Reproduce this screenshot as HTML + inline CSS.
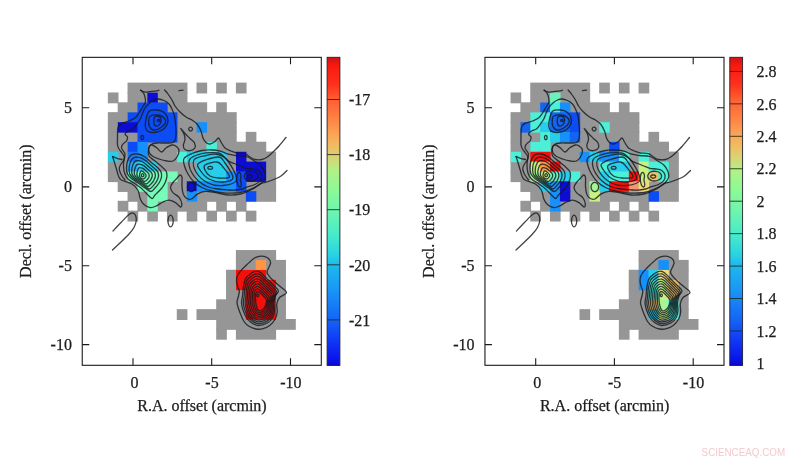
<!DOCTYPE html>
<html><head><meta charset="utf-8"><title>maps</title>
<style>
html,body{margin:0;padding:0;background:#fff;}
svg{display:block;}
text{font-family:"Liberation Serif","Times New Roman",serif;font-size:16px;fill:#1c1c1c;stroke:#1c1c1c;stroke-width:0.25px;}

.wm{stroke:none;font-family:"Liberation Sans",Arial,sans-serif;font-size:10.8px;fill:#f3c9cf;}
</style></head><body>
<svg width="800" height="461" viewBox="0 0 800 461">
<defs><linearGradient id="jet" x1="0" y1="0" x2="0" y2="1"><stop offset="0.0000" stop-color="rgb(205, 18, 25)"/><stop offset="0.0282" stop-color="rgb(250, 25, 15)"/><stop offset="0.0899" stop-color="rgb(255, 50, 30)"/><stop offset="0.1369" stop-color="rgb(255, 95, 50)"/><stop offset="0.1905" stop-color="rgb(255, 125, 65)"/><stop offset="0.2618" stop-color="rgb(250, 172, 90)"/><stop offset="0.3157" stop-color="rgb(226, 205, 110)"/><stop offset="0.3657" stop-color="rgb(178, 240, 135)"/><stop offset="0.4306" stop-color="rgb(140, 250, 150)"/><stop offset="0.4945" stop-color="rgb(112, 245, 172)"/><stop offset="0.5766" stop-color="rgb(70, 235, 202)"/><stop offset="0.6415" stop-color="rgb(42, 210, 226)"/><stop offset="0.6733" stop-color="rgb(30, 186, 236)"/><stop offset="0.7550" stop-color="rgb(25, 150, 246)"/><stop offset="0.8524" stop-color="rgb(20, 100, 246)"/><stop offset="0.9173" stop-color="rgb(15, 58, 246)"/><stop offset="0.9692" stop-color="rgb(12, 26, 238)"/><stop offset="0.9919" stop-color="rgb(10, 14, 222)"/><stop offset="1.0000" stop-color="rgb(8, 8, 190)"/></linearGradient>
<g id="ct" fill="none" stroke="#141a1e" stroke-opacity="0.82" stroke-width="1.3" stroke-linejoin="round" stroke-linecap="round">
<path d="M159.0 90.2C158.7 90.3 158.5 90.7 157.0 90.9C155.5 91.1 152.1 91.4 150.0 91.6C147.9 91.8 146.1 92.2 144.5 92.0C142.9 91.8 141.2 90.5 140.6 90.2"/>
<path d="M140.6 90.2C141.2 90.8 143.2 92.5 144.0 94.0C144.8 95.5 145.1 97.6 145.3 99.0C145.5 100.4 145.7 101.2 145.3 102.5C144.9 103.8 144.1 104.8 143.0 106.5C141.9 108.2 140.3 111.1 139.0 113.0C137.7 114.9 136.7 116.7 135.0 118.0C133.3 119.3 131.2 120.1 129.0 121.0C126.8 121.9 123.7 122.4 122.0 123.2C120.3 124.0 119.3 124.9 118.6 126.0C117.9 127.1 117.8 128.0 117.6 130.0C117.4 132.0 117.5 135.5 117.5 138.0C117.5 140.5 117.2 143.2 117.5 145.0C117.8 146.8 118.2 147.7 119.0 149.0C119.8 150.3 121.1 151.7 122.0 153.0C122.9 154.3 124.2 155.8 124.5 157.0C124.8 158.2 124.6 158.8 124.0 160.0C123.4 161.2 121.8 162.7 121.0 164.0C120.2 165.3 119.5 166.7 119.3 168.0C119.1 169.3 119.5 170.7 120.0 172.0C120.5 173.3 121.2 174.7 122.0 176.0C122.8 177.3 124.5 179.3 125.0 180.0"/>
<path d="M112.5 156.5C112.8 157.2 113.5 159.4 114.0 161.0C114.5 162.6 115.0 164.3 115.5 166.0C116.0 167.7 116.5 169.3 117.0 171.0C117.5 172.7 117.8 174.5 118.5 176.0C119.2 177.5 119.2 178.7 121.4 180.0C123.6 181.3 128.8 182.1 131.5 183.8C134.2 185.5 136.3 187.5 137.8 190.0C139.3 192.5 139.3 196.5 140.3 198.9C141.3 201.3 142.3 203.0 144.0 204.5C145.7 206.0 148.2 207.5 150.3 207.7C152.4 207.9 154.5 206.8 156.6 205.8C158.7 204.9 160.8 202.9 162.9 202.0C165.0 201.1 167.1 200.0 169.2 200.1C171.3 200.2 173.6 201.4 175.5 202.6C177.4 203.8 179.4 206.8 180.5 207.0C181.6 207.2 182.0 205.5 181.8 203.9C181.6 202.3 180.8 199.5 179.3 197.6C177.8 195.7 174.5 194.3 173.0 192.6C171.5 190.9 170.5 189.2 170.5 187.5C170.5 185.8 171.9 184.0 173.0 182.5C174.1 181.0 175.6 179.8 176.8 178.5C178.0 177.2 179.1 175.2 180.0 175.0C180.9 174.8 181.7 175.6 182.0 177.5C182.3 179.4 181.8 183.7 182.0 186.4C182.2 189.1 182.5 191.9 183.2 193.9C183.9 195.9 185.0 197.5 186.4 198.3C187.8 199.2 189.5 199.7 191.4 199.0C193.3 198.3 195.4 195.2 197.7 193.9C200.0 192.6 202.4 191.6 205.3 191.4C208.2 191.2 211.5 192.0 215.3 192.6C219.1 193.2 223.8 194.8 228.0 195.0C232.2 195.2 236.3 195.0 240.5 194.0C244.7 193.0 249.8 190.7 253.0 189.0C256.2 187.3 257.7 185.2 260.0 184.0C262.3 182.8 264.5 182.8 267.0 182.0C269.5 181.2 272.7 180.0 275.0 179.0C277.3 178.0 279.0 177.4 281.0 176.0C283.0 174.6 286.0 171.4 287.0 170.5"/>
<path d="M112.5 156.5C113.2 156.8 115.4 157.8 117.0 158.3C118.6 158.8 121.2 159.3 122.0 159.5"/>
<path d="M164.6 90.0C165.2 90.7 166.8 92.3 168.0 94.0C169.2 95.7 170.8 98.0 172.0 100.0C173.2 102.0 173.7 104.0 175.0 106.0C176.3 108.0 178.2 110.2 180.0 112.0C181.8 113.8 184.0 115.7 186.0 117.0C188.0 118.3 190.2 118.8 192.0 120.0C193.8 121.2 195.5 122.2 197.0 124.0C198.5 125.8 200.0 128.7 201.0 131.0C202.0 133.3 202.2 136.1 203.0 138.0C203.8 139.9 204.8 141.5 206.0 142.5C207.2 143.5 208.5 144.2 210.0 144.0C211.5 143.8 213.6 142.5 215.0 141.5C216.4 140.5 217.5 137.9 218.5 138.0C219.5 138.1 219.9 140.3 221.0 142.0C222.1 143.7 223.3 146.5 225.0 148.0C226.7 149.5 229.0 150.2 231.0 151.0C233.0 151.8 234.7 152.6 237.0 153.0C239.3 153.4 242.8 153.0 245.0 153.7C247.2 154.4 248.3 156.0 250.0 157.0C251.7 158.0 253.0 159.1 255.0 159.5C257.0 159.9 259.8 160.0 262.0 159.5C264.2 159.0 266.2 157.8 268.0 156.5C269.8 155.2 271.2 153.8 273.0 152.0C274.8 150.2 276.8 148.4 279.0 146.0C281.2 143.6 284.8 138.9 286.0 137.5"/>
<path d="M179.0 90.6 L183.0 90.2"/>
<path d="M158.5 99.0C160.2 99.1 162.2 99.7 164.0 100.5C165.8 101.3 167.7 102.6 169.0 104.0C170.3 105.4 171.1 107.0 172.0 109.0C172.9 111.0 173.9 113.5 174.5 116.0C175.1 118.5 175.2 121.3 175.5 124.0C175.8 126.7 176.0 129.5 176.0 132.0C176.0 134.5 176.0 137.2 175.5 139.0C175.0 140.8 174.6 141.8 173.0 142.5C171.4 143.2 168.7 142.9 166.0 143.0C163.3 143.1 159.5 142.8 157.0 143.0C154.5 143.2 152.4 143.5 151.0 144.5C149.6 145.5 148.8 147.1 148.5 149.0C148.2 150.9 147.9 154.0 149.0 156.0C150.1 158.0 153.0 159.3 155.0 161.0C157.0 162.7 159.2 164.3 161.0 166.0C162.8 167.7 165.0 169.3 166.0 171.0C167.0 172.7 167.2 174.0 167.0 176.0C166.8 178.0 166.0 180.8 165.0 183.0C164.0 185.2 162.7 187.0 161.0 189.0C159.3 191.0 156.5 193.4 155.0 195.0C153.5 196.6 153.3 198.7 152.0 198.5C150.7 198.3 148.8 195.8 147.0 194.0C145.2 192.2 143.2 189.8 141.0 188.0C138.8 186.2 136.2 184.5 134.0 183.0C131.8 181.5 129.6 180.7 128.0 179.0C126.4 177.3 125.2 175.2 124.5 173.0C123.8 170.8 123.6 168.3 123.5 166.0C123.4 163.7 123.8 161.0 124.0 159.0C124.2 157.0 125.4 155.8 125.0 154.0C124.6 152.2 121.8 149.7 121.5 148.0C121.2 146.3 122.2 145.2 123.0 144.0C123.8 142.8 125.8 142.2 126.5 141.0C127.2 139.8 127.8 138.2 127.5 137.0C127.2 135.8 124.9 135.0 125.0 134.0C125.1 133.0 126.7 131.8 128.0 131.0C129.3 130.2 131.6 130.0 133.0 129.0C134.4 128.0 135.1 126.7 136.3 125.0C137.5 123.3 139.3 120.8 140.3 119.0C141.3 117.2 141.5 115.8 142.3 114.0C143.1 112.2 143.7 109.9 145.0 108.0C146.3 106.1 148.5 103.8 150.0 102.5C151.5 101.2 152.6 100.6 154.0 100.0C155.4 99.4 156.8 98.9 158.5 99.0Z"/>
<path d="M150.3 116.0C151.9 115.2 156.0 114.7 158.3 115.0C160.6 115.3 163.1 116.7 164.3 118.0C165.5 119.3 166.0 121.3 165.3 123.0C164.6 124.7 162.3 126.8 160.3 128.0C158.3 129.2 155.1 130.3 153.3 130.0C151.5 129.7 150.1 127.7 149.3 126.0C148.6 124.3 148.6 121.7 148.8 120.0C149.0 118.3 148.7 116.8 150.3 116.0Z"/>
<path d="M149.3 111.0C151.1 109.7 155.0 109.8 157.3 110.0C159.6 110.2 161.6 110.8 163.3 112.0C165.0 113.2 166.6 115.0 167.3 117.0C168.0 119.0 168.1 121.8 167.3 124.0C166.5 126.2 164.5 128.6 162.3 130.0C160.1 131.4 156.8 132.3 154.3 132.5C151.8 132.7 148.8 132.1 147.3 131.0C145.8 129.9 145.5 128.2 145.3 126.0C145.1 123.8 145.6 120.5 146.3 118.0C147.0 115.5 147.5 112.3 149.3 111.0Z"/>
<path d="M154.5 117.0C155.4 116.2 157.9 116.2 159.0 116.5C160.1 116.8 160.8 117.9 161.0 119.0C161.2 120.1 161.1 121.8 160.5 123.0C159.9 124.2 158.5 125.7 157.5 126.0C156.5 126.3 155.1 125.8 154.5 125.0C153.9 124.2 153.8 122.3 153.8 121.0C153.8 119.7 153.6 117.8 154.5 117.0Z"/>
<path d="M159.8 120.5C159.8 120.7 159.6 121.0 159.4 121.2C159.2 121.4 158.8 121.5 158.5 121.5C158.2 121.5 157.8 121.4 157.6 121.2C157.4 121.0 157.2 120.7 157.2 120.5C157.2 120.3 157.4 120.0 157.6 119.8C157.8 119.6 158.2 119.5 158.5 119.5C158.8 119.5 159.2 119.6 159.4 119.8C159.6 120.0 159.8 120.3 159.8 120.5Z"/>
<path d="M143.6 137.5C143.6 138.0 143.4 138.7 143.2 139.1C143.0 139.4 142.6 139.7 142.3 139.7C142.0 139.7 141.6 139.4 141.4 139.1C141.2 138.7 141.0 138.0 141.0 137.5C141.0 137.0 141.2 136.3 141.4 135.9C141.6 135.6 142.0 135.3 142.3 135.3C142.6 135.3 143.0 135.6 143.2 135.9C143.4 136.3 143.6 137.0 143.6 137.5Z"/>
<path d="M192.5 129.0C192.5 129.4 192.3 130.0 191.9 130.3C191.6 130.7 191.0 130.9 190.6 130.9C190.2 130.9 189.6 130.7 189.3 130.3C188.9 130.0 188.7 129.4 188.7 129.0C188.7 128.6 188.9 128.0 189.3 127.7C189.6 127.3 190.2 127.1 190.6 127.1C191.0 127.1 191.6 127.3 191.9 127.7C192.3 128.0 192.5 128.6 192.5 129.0Z"/>
<path d="M149.0 147.0C149.4 145.7 150.7 144.8 152.0 145.0C153.3 145.2 155.4 146.8 157.0 148.0C158.6 149.2 160.0 152.0 161.5 152.0C163.0 152.0 164.2 149.2 166.0 148.0C167.8 146.8 170.2 145.2 172.0 145.0C173.8 144.8 175.8 146.0 177.0 147.0C178.2 148.0 179.0 149.3 179.0 151.0C179.0 152.7 178.0 155.3 177.0 157.0C176.0 158.7 174.7 160.3 173.0 161.0C171.3 161.7 169.3 161.3 167.0 161.0C164.7 160.7 161.3 159.8 159.0 159.0C156.7 158.2 154.6 157.5 153.0 156.5C151.4 155.5 150.2 154.6 149.5 153.0C148.8 151.4 148.6 148.3 149.0 147.0Z"/>
<path d="M180.7 128.3C180.9 128.2 183.4 131.8 185.0 133.5C186.6 135.2 188.4 136.9 190.0 138.5C191.6 140.1 193.7 141.4 194.5 143.0C195.3 144.6 195.6 146.7 194.8 148.0C194.1 149.3 191.6 150.4 190.0 150.7C188.4 150.9 186.1 150.4 185.0 149.5C183.9 148.6 183.3 147.2 183.3 145.5C183.3 143.8 184.9 141.4 185.0 139.5C185.1 137.6 184.7 135.9 184.0 134.0C183.3 132.1 180.5 128.4 180.7 128.3Z"/>
<path d="M141.0 171.0C141.4 170.7 141.8 171.0 142.2 171.2C142.6 171.3 143.0 171.6 143.4 171.9C143.8 172.2 144.2 172.6 144.5 172.9C144.8 173.2 145.2 173.6 145.4 173.9C145.7 174.2 145.9 174.6 146.0 175.0C146.1 175.4 146.1 175.8 146.0 176.2C145.9 176.6 145.7 177.0 145.4 177.4C145.1 177.8 144.8 178.1 144.4 178.4C144.0 178.7 143.4 179.0 143.0 179.0C142.6 179.0 142.2 178.8 141.8 178.6C141.4 178.4 141.1 178.2 140.8 177.9C140.5 177.6 140.2 177.3 140.0 177.0C139.8 176.7 139.7 176.5 139.6 176.2C139.5 175.9 139.4 175.8 139.5 175.3C139.6 174.8 139.8 173.7 140.0 173.0C140.2 172.3 140.6 171.3 141.0 171.0Z"/>
<path d="M139.0 167.8C139.6 167.3 140.6 167.6 141.4 167.8C142.1 167.9 142.9 168.4 143.7 168.9C144.5 169.4 145.3 170.3 146.0 170.9C146.7 171.6 147.4 172.1 147.9 172.7C148.4 173.3 148.8 173.8 149.0 174.4C149.2 175.0 149.2 175.7 149.1 176.4C149.0 177.0 148.6 177.9 148.1 178.5C147.7 179.2 147.1 179.8 146.5 180.3C145.9 180.8 145.3 181.5 144.6 181.5C143.9 181.5 143.2 180.9 142.4 180.5C141.7 180.0 140.9 179.4 140.2 178.9C139.6 178.4 138.9 177.9 138.4 177.4C137.9 176.9 137.4 176.4 137.2 175.8C136.9 175.2 136.8 174.7 136.9 173.8C137.0 173.0 137.2 171.6 137.5 170.6C137.8 169.6 138.4 168.3 139.0 167.8Z"/>
<path d="M137.0 164.6C137.9 164.0 139.3 164.1 140.5 164.3C141.7 164.5 142.9 165.2 144.0 165.9C145.2 166.7 146.4 168.0 147.5 168.9C148.6 169.9 149.7 170.7 150.4 171.5C151.2 172.3 151.7 173.0 152.0 173.8C152.3 174.6 152.4 175.5 152.2 176.5C152.0 177.5 151.4 178.7 150.8 179.6C150.2 180.6 149.4 181.5 148.6 182.2C147.9 183.0 147.1 184.0 146.2 184.0C145.3 184.0 144.2 183.0 143.1 182.4C142.0 181.7 140.7 180.7 139.7 179.9C138.6 179.2 137.6 178.6 136.8 177.8C136.0 177.0 135.2 176.2 134.8 175.3C134.3 174.4 134.3 173.6 134.3 172.4C134.3 171.2 134.6 169.5 135.0 168.2C135.4 166.9 136.1 165.2 137.0 164.6Z"/>
<path d="M135.0 161.4C136.2 160.6 138.1 160.6 139.7 160.9C141.2 161.1 142.8 161.9 144.4 163.0C145.9 164.0 147.6 165.7 149.0 167.0C150.4 168.2 152.0 169.3 153.0 170.4C154.0 171.4 154.6 172.1 155.0 173.2C155.4 174.3 155.5 175.4 155.3 176.7C155.1 177.9 154.3 179.5 153.6 180.8C152.8 182.0 151.7 183.2 150.8 184.2C149.8 185.1 149.0 186.5 147.8 186.5C146.6 186.5 145.2 185.2 143.7 184.2C142.3 183.3 140.5 182.0 139.1 181.0C137.7 180.0 136.3 179.2 135.2 178.2C134.1 177.2 132.9 176.1 132.3 174.9C131.8 173.7 131.7 172.4 131.7 170.9C131.7 169.4 131.9 167.4 132.5 165.8C133.1 164.2 133.8 162.2 135.0 161.4Z"/>
<path d="M133.0 158.2C134.5 157.2 136.9 157.1 138.8 157.4C140.8 157.7 142.7 158.7 144.7 160.0C146.6 161.2 148.7 163.4 150.5 165.0C152.3 166.5 154.2 167.9 155.5 169.2C156.7 170.5 157.5 171.3 158.0 172.6C158.5 173.9 158.7 175.3 158.4 176.8C158.1 178.4 157.2 180.3 156.3 181.9C155.4 183.4 154.0 184.9 152.9 186.1C151.7 187.3 150.8 189.0 149.4 189.0C148.0 189.0 146.2 187.3 144.4 186.1C142.6 184.9 140.4 183.2 138.6 182.0C136.8 180.7 135.0 179.9 133.6 178.6C132.2 177.3 130.7 176.0 129.9 174.4C129.2 172.9 129.1 171.3 129.1 169.5C129.1 167.6 129.3 165.3 130.0 163.4C130.7 161.5 131.5 159.2 133.0 158.2Z"/>
<path d="M131.0 155.0C132.8 153.8 135.7 153.7 138.0 154.0C140.3 154.3 142.7 155.5 145.0 157.0C147.3 158.5 149.8 161.2 152.0 163.0C154.2 164.8 156.5 166.5 158.0 168.0C159.5 169.5 160.4 170.5 161.0 172.0C161.6 173.5 161.8 175.2 161.5 177.0C161.2 178.8 160.1 181.2 159.0 183.0C157.9 184.8 156.3 186.6 155.0 188.0C153.7 189.4 152.7 191.5 151.0 191.5C149.3 191.5 147.2 189.4 145.0 188.0C142.8 186.6 140.2 184.5 138.0 183.0C135.8 181.5 133.8 180.5 132.0 179.0C130.2 177.5 128.4 175.8 127.5 174.0C126.6 172.2 126.5 170.2 126.5 168.0C126.5 165.8 126.8 163.2 127.5 161.0C128.2 158.8 129.2 156.2 131.0 155.0Z"/>
<path d="M143.9 175.2C143.9 175.6 143.7 176.0 143.5 176.3C143.3 176.5 142.9 176.7 142.6 176.7C142.3 176.7 141.9 176.5 141.7 176.3C141.5 176.0 141.3 175.6 141.3 175.2C141.3 174.8 141.5 174.4 141.7 174.1C141.9 173.9 142.3 173.7 142.6 173.7C142.9 173.7 143.3 173.9 143.5 174.1C143.7 174.4 143.9 174.8 143.9 175.2Z"/>
<path d="M212.6 167.8C212.6 168.1 212.4 168.4 212.1 168.7C211.9 168.9 211.4 169.1 210.9 169.2C210.5 169.3 209.9 169.3 209.5 169.2C209.0 169.1 208.5 168.9 208.3 168.7C208.0 168.4 207.8 168.1 207.8 167.8C207.8 167.5 208.0 167.2 208.3 166.9C208.5 166.7 209.0 166.5 209.5 166.4C209.9 166.3 210.5 166.3 210.9 166.4C211.4 166.5 211.9 166.7 212.1 166.9C212.4 167.2 212.6 167.5 212.6 167.8Z"/>
<path d="M205.0 165.0C207.0 163.7 214.0 161.7 217.0 162.0C220.0 162.3 220.9 164.5 223.0 167.0C225.1 169.5 230.2 175.2 229.5 177.0C228.8 178.8 222.2 178.2 219.0 178.0C215.8 177.8 212.3 177.3 210.0 176.0C207.7 174.7 205.8 171.8 205.0 170.0C204.2 168.2 203.0 166.3 205.0 165.0Z"/>
<path d="M199.0 163.0C202.0 160.8 213.7 157.0 218.0 157.0C222.3 157.0 222.5 159.5 225.0 163.0C227.5 166.5 233.3 174.8 233.0 178.0C232.7 181.2 227.0 181.8 223.0 182.0C219.0 182.2 212.8 181.0 209.0 179.0C205.2 177.0 201.7 172.7 200.0 170.0C198.3 167.3 196.0 165.2 199.0 163.0Z"/>
<path d="M194.0 160.0C195.7 157.2 202.0 156.4 206.0 155.5C210.0 154.6 214.3 153.6 218.0 154.5C221.7 155.4 224.9 156.8 228.0 161.0C231.1 165.2 237.3 175.9 236.5 180.0C235.7 184.1 227.8 185.0 223.0 185.5C218.2 186.0 212.5 185.2 208.0 183.0C203.5 180.8 198.3 175.8 196.0 172.0C193.7 168.2 192.3 162.8 194.0 160.0Z"/>
<path d="M190.0 159.0C191.3 157.3 194.3 156.0 197.0 155.0C199.7 154.0 202.4 153.1 206.0 152.8C209.6 152.5 215.4 152.5 218.3 153.0C221.2 153.5 221.6 154.7 223.3 156.0C225.0 157.3 226.5 159.8 228.3 161.0C230.1 162.2 232.3 162.7 234.3 163.5C236.3 164.3 238.3 165.2 240.3 166.0C242.3 166.8 244.3 167.8 246.3 168.3C248.3 168.8 250.4 168.7 252.3 169.0C254.2 169.3 256.5 169.3 258.0 170.3C259.5 171.3 261.1 173.3 261.5 175.0C261.9 176.7 261.4 178.9 260.3 180.5C259.2 182.1 257.2 183.4 255.0 184.5C252.8 185.6 249.4 186.1 247.3 186.8C245.2 187.6 244.1 188.5 242.3 189.0C240.5 189.5 238.6 189.8 236.3 190.0C234.0 190.2 231.4 190.2 228.3 190.0C225.2 189.8 221.6 189.6 218.0 189.0C214.4 188.4 210.3 187.9 207.0 186.5C203.7 185.1 200.5 182.8 198.0 180.5C195.5 178.2 193.5 175.6 192.0 173.0C190.5 170.4 189.3 167.3 189.0 165.0C188.7 162.7 188.7 160.7 190.0 159.0Z"/>
<path d="M184.0 158.5C185.2 156.4 189.0 154.8 192.0 153.5C195.0 152.2 198.7 151.1 202.0 150.5C205.3 149.9 208.9 149.9 212.0 150.0C215.1 150.1 217.6 150.5 220.3 151.2C223.0 151.9 225.6 153.5 228.3 154.2C231.0 154.9 233.3 155.1 236.3 155.5C239.3 155.9 243.3 155.6 246.3 156.5C249.3 157.4 252.0 159.6 254.3 161.0C256.6 162.4 258.6 163.3 260.3 165.0C262.0 166.7 263.5 169.0 264.3 171.0C265.1 173.0 265.6 175.2 265.3 177.0C265.0 178.8 263.6 180.5 262.3 182.0C261.0 183.5 259.3 184.8 257.3 186.0C255.3 187.2 252.6 188.3 250.3 189.3C248.0 190.3 245.9 191.2 243.3 191.8C240.8 192.4 238.2 192.8 235.0 193.0C231.8 193.2 227.8 193.3 224.0 193.0C220.2 192.7 215.7 191.9 212.0 191.0C208.3 190.1 205.0 189.0 202.0 187.5C199.0 186.0 196.3 184.2 194.0 182.0C191.7 179.8 189.6 176.7 188.0 174.0C186.4 171.3 185.2 168.6 184.5 166.0C183.8 163.4 182.8 160.6 184.0 158.5Z"/>
<path d="M252.2 176.5C252.2 176.8 252.0 177.2 251.7 177.4C251.4 177.7 250.9 177.9 250.5 178.0C250.0 178.1 249.4 178.1 248.9 178.0C248.5 177.9 248.0 177.7 247.7 177.4C247.4 177.2 247.2 176.8 247.2 176.5C247.2 176.2 247.4 175.8 247.7 175.6C248.0 175.3 248.5 175.1 248.9 175.0C249.4 174.9 250.0 174.9 250.5 175.0C250.9 175.1 251.4 175.3 251.7 175.6C252.0 175.8 252.2 176.2 252.2 176.5Z"/>
<path d="M247.0 172.0C248.3 171.3 250.5 171.2 252.0 171.3C253.5 171.4 255.0 171.8 256.0 172.5C257.0 173.2 257.8 174.5 258.0 175.5C258.2 176.5 258.0 177.7 257.3 178.5C256.6 179.3 255.4 180.1 254.0 180.5C252.6 180.9 250.4 181.1 249.0 180.8C247.6 180.6 246.3 179.9 245.5 179.0C244.7 178.1 244.1 176.7 244.3 175.5C244.6 174.3 245.7 172.7 247.0 172.0Z"/>
<path d="M237.8 173.3C238.2 172.7 239.1 172.2 239.6 172.6C240.1 173.0 240.8 174.3 241.0 175.5C241.2 176.7 240.4 178.4 240.5 180.0C240.6 181.6 241.4 183.8 241.3 185.0C241.2 186.2 240.8 186.9 240.2 187.0C239.6 187.1 238.6 186.5 238.0 185.3C237.4 184.1 237.0 181.6 236.8 180.0C236.6 178.4 236.8 177.1 237.0 176.0C237.2 174.9 237.4 173.9 237.8 173.3Z"/>
<path d="M195.1 187.0C195.1 187.9 194.8 188.9 194.4 189.6C193.9 190.4 193.2 191.0 192.5 191.3C191.8 191.6 190.8 191.6 190.1 191.3C189.4 191.0 188.7 190.4 188.2 189.6C187.8 188.9 187.5 187.9 187.5 187.0C187.5 186.1 187.8 185.1 188.2 184.4C188.7 183.6 189.4 183.0 190.1 182.7C190.8 182.4 191.8 182.4 192.5 182.7C193.2 183.0 193.9 183.6 194.4 184.4C194.8 185.1 195.1 186.1 195.1 187.0Z"/>
<path d="M173.2 221.0C173.2 222.1 173.0 223.5 172.7 224.4C172.4 225.3 171.9 226.2 171.4 226.5C170.9 226.9 170.3 226.9 169.8 226.5C169.3 226.2 168.8 225.3 168.5 224.4C168.2 223.5 168.0 222.1 168.0 221.0C168.0 219.9 168.2 218.5 168.5 217.6C168.8 216.7 169.3 215.8 169.8 215.5C170.3 215.1 170.9 215.1 171.4 215.5C171.9 215.8 172.4 216.7 172.7 217.6C173.0 218.5 173.2 219.9 173.2 221.0Z"/>
<path d="M113.0 231.0C114.3 229.6 118.3 225.2 121.0 222.5C123.7 219.8 127.0 216.2 129.0 214.6C130.9 213.0 131.6 212.7 132.7 212.8C133.8 213.0 135.0 214.1 135.6 215.5C136.2 216.9 136.5 219.0 136.2 221.0C135.9 223.0 135.2 225.3 134.0 227.5C132.8 229.7 131.2 231.6 129.0 234.0C126.8 236.4 123.8 239.3 121.0 242.0C118.2 244.7 113.9 248.7 112.5 250.0"/>
<path d="M259.0 256.3C260.6 256.0 262.4 255.9 264.0 256.3C265.6 256.7 267.4 257.5 268.5 258.5C269.6 259.5 270.5 261.1 270.6 262.5C270.7 263.9 269.9 265.0 269.3 266.6C268.7 268.2 267.0 270.3 267.0 271.9C267.0 273.5 268.2 274.9 269.3 276.4C270.4 277.9 272.0 279.4 273.8 281.0C275.6 282.6 277.8 284.4 279.9 286.3C282.0 288.2 286.6 290.6 286.5 292.5C286.4 294.4 281.1 295.6 279.5 297.5C277.9 299.4 277.2 301.6 276.8 304.0C276.4 306.4 277.5 309.5 277.2 312.0C276.9 314.5 276.4 316.8 275.2 319.0C274.0 321.2 272.0 323.7 270.0 325.3C268.0 326.9 265.3 328.1 263.0 328.7C260.7 329.3 258.3 329.4 256.0 329.0C253.7 328.6 251.0 327.6 249.0 326.3C247.0 325.1 245.4 323.6 244.0 321.5C242.6 319.4 241.5 316.4 240.5 314.0C239.5 311.6 238.6 309.0 238.0 307.0C237.4 305.0 236.9 303.8 237.0 302.0C237.1 300.2 238.1 297.8 238.5 296.0C238.9 294.2 239.4 292.4 239.3 291.0C239.2 289.6 238.6 289.4 238.1 287.8C237.6 286.2 236.7 283.7 236.6 281.7C236.5 279.7 236.6 277.6 237.4 275.7C238.2 273.8 239.7 272.2 241.2 270.4C242.7 268.6 245.0 266.5 246.5 265.0C248.0 263.5 249.0 262.7 250.3 261.5C251.6 260.3 253.1 258.9 254.5 258.0C255.9 257.1 257.4 256.6 259.0 256.3Z"/>
<path d="M257.1 271.1C258.9 271.1 259.9 272.0 261.7 273.4C263.5 274.8 265.7 277.5 267.7 279.5C269.7 281.5 272.0 283.6 273.8 285.5C275.6 287.4 278.1 289.1 278.4 290.9C278.7 292.6 276.2 294.0 275.5 296.0C274.8 298.0 274.2 300.5 274.0 303.0C273.8 305.5 274.8 308.5 274.5 311.0C274.2 313.5 273.7 316.0 272.5 318.0C271.3 320.0 269.9 321.8 267.5 323.0C265.1 324.2 260.8 325.6 258.0 325.5C255.2 325.4 253.0 323.9 251.0 322.5C249.0 321.1 247.3 319.1 246.0 317.0C244.7 314.9 243.8 312.3 243.0 310.0C242.2 307.7 241.6 305.3 241.5 303.0C241.4 300.7 242.2 298.7 242.5 296.0C242.8 293.3 242.9 289.9 243.4 287.0C243.9 284.1 244.4 280.9 245.7 278.7C247.0 276.4 249.1 274.8 251.0 273.5C252.9 272.2 255.3 271.1 257.1 271.1Z"/>
<path d="M257.2 273.7C258.8 273.6 259.8 274.5 261.4 275.8C263.1 277.0 265.1 279.5 266.9 281.4C268.8 283.2 270.9 285.1 272.6 286.9C274.2 288.6 276.5 290.3 276.8 291.9C277.2 293.5 275.0 294.8 274.4 296.7C273.7 298.6 273.2 300.8 273.0 303.1C272.8 305.4 273.6 308.1 273.3 310.4C273.0 312.7 272.5 315.0 271.4 316.9C270.3 318.7 268.9 320.3 266.8 321.4C264.6 322.6 260.7 323.8 258.2 323.7C255.7 323.6 253.7 322.2 251.9 320.9C250.1 319.6 248.6 317.8 247.4 315.9C246.2 314.0 245.3 311.6 244.7 309.4C244.0 307.3 243.4 305.2 243.3 303.0C243.2 300.8 243.9 299.0 244.1 296.5C244.4 294.0 244.4 290.9 244.9 288.2C245.4 285.6 245.8 282.7 246.9 280.6C248.1 278.5 250.0 277.0 251.7 275.9C253.4 274.7 255.5 273.7 257.2 273.7Z"/>
<path d="M257.2 276.2C258.7 276.2 259.6 277.0 261.1 278.1C262.6 279.3 264.5 281.5 266.2 283.2C267.9 284.9 269.8 286.6 271.3 288.2C272.8 289.9 275.0 291.4 275.3 292.9C275.6 294.4 273.8 295.7 273.2 297.4C272.7 299.1 272.2 301.2 272.0 303.2C271.8 305.3 272.4 307.8 272.1 309.9C271.8 311.9 271.3 314.0 270.2 315.7C269.2 317.4 268.0 318.8 266.0 319.8C264.0 320.9 260.6 321.9 258.4 321.9C256.2 321.8 254.4 320.6 252.8 319.4C251.1 318.2 249.8 316.5 248.8 314.8C247.7 313.0 246.9 310.8 246.3 308.9C245.7 306.9 245.2 305.0 245.1 303.0C245.0 301.0 245.6 299.2 245.8 297.0C246.0 294.8 246.0 291.9 246.4 289.5C246.8 287.1 247.2 284.4 248.2 282.5C249.2 280.6 250.8 279.3 252.3 278.2C253.8 277.1 255.7 276.2 257.2 276.2Z"/>
<path d="M257.2 278.8C258.6 278.7 259.5 279.4 260.9 280.5C262.2 281.5 263.9 283.5 265.4 285.1C267.0 286.6 268.7 288.1 270.1 289.6C271.4 291.1 273.4 292.5 273.8 293.9C274.1 295.3 272.6 296.5 272.1 298.1C271.7 299.6 271.2 301.5 271.0 303.4C270.8 305.2 271.2 307.4 270.9 309.3C270.6 311.2 270.1 313.1 269.1 314.6C268.2 316.0 267.0 317.3 265.2 318.2C263.5 319.2 260.5 320.1 258.6 320.1C256.6 320.0 255.0 318.9 253.6 317.8C252.2 316.7 251.1 315.2 250.1 313.6C249.2 312.0 248.5 310.1 248.0 308.3C247.4 306.5 247.0 304.8 246.9 303.0C246.8 301.2 247.2 299.5 247.4 297.5C247.6 295.5 247.6 292.9 247.9 290.8C248.3 288.6 248.6 286.1 249.4 284.4C250.3 282.7 251.7 281.5 253.0 280.6C254.3 279.6 255.9 278.8 257.2 278.8Z"/>
<path d="M257.3 281.3C258.5 281.3 259.4 281.9 260.6 282.9C261.8 283.8 263.3 285.5 264.7 286.9C266.1 288.3 267.6 289.7 268.8 291.0C270.1 292.3 271.8 293.7 272.2 294.9C272.6 296.2 271.4 297.3 271.0 298.8C270.6 300.2 270.2 301.8 270.0 303.5C269.8 305.2 270.1 307.1 269.8 308.8C269.4 310.4 268.9 312.1 268.0 313.4C267.1 314.7 266.0 315.8 264.5 316.6C263.0 317.5 260.4 318.3 258.8 318.2C257.1 318.2 255.7 317.2 254.5 316.2C253.3 315.3 252.3 313.9 251.5 312.5C250.7 311.1 250.1 309.3 249.7 307.8C249.2 306.2 248.8 304.6 248.7 303.0C248.6 301.4 248.9 299.8 249.1 298.0C249.2 296.2 249.2 293.9 249.4 292.0C249.7 290.1 250.0 287.9 250.7 286.4C251.4 284.8 252.6 283.7 253.7 282.9C254.8 282.1 256.1 281.3 257.3 281.3Z"/>
<path d="M257.4 283.9C258.4 283.8 259.2 284.4 260.3 285.2C261.4 286.0 262.7 287.6 263.9 288.8C265.2 289.9 266.4 291.2 267.6 292.4C268.7 293.6 270.3 294.8 270.6 296.0C271.0 297.1 270.1 298.2 269.9 299.4C269.6 300.7 269.2 302.2 269.0 303.6C268.8 305.1 268.9 306.8 268.6 308.2C268.2 309.6 267.7 311.1 266.9 312.2C266.1 313.4 265.1 314.4 263.8 315.1C262.4 315.8 260.3 316.5 258.9 316.4C257.5 316.4 256.4 315.5 255.4 314.7C254.4 313.8 253.6 312.6 252.9 311.4C252.2 310.1 251.7 308.6 251.3 307.2C250.9 305.8 250.5 304.4 250.4 303.0C250.3 301.6 250.6 300.1 250.7 298.5C250.8 296.9 250.8 295.0 251.0 293.2C251.2 291.5 251.4 289.6 251.9 288.3C252.5 286.9 253.4 286.0 254.3 285.2C255.2 284.5 256.3 283.9 257.4 283.9Z"/>
<path d="M257.4 286.4C258.2 286.4 259.1 286.9 260.1 287.6C261.0 288.3 262.2 289.6 263.2 290.6C264.2 291.6 265.3 292.7 266.3 293.8C267.3 294.8 268.7 295.9 269.1 297.0C269.5 298.0 268.9 299.0 268.8 300.1C268.6 301.3 268.2 302.5 268.0 303.8C267.8 305.0 267.8 306.4 267.4 307.6C267.0 308.9 266.5 310.1 265.8 311.1C265.0 312.1 264.1 312.9 263.0 313.5C261.9 314.1 260.2 314.7 259.1 314.6C258.0 314.6 257.1 313.9 256.2 313.1C255.4 312.4 254.8 311.3 254.2 310.2C253.7 309.2 253.3 307.8 253.0 306.6C252.6 305.4 252.3 304.3 252.2 303.0C252.1 301.7 252.3 300.4 252.3 299.0C252.4 297.6 252.3 296.0 252.5 294.5C252.6 293.0 252.8 291.3 253.2 290.2C253.6 289.0 254.3 288.2 255.0 287.6C255.7 287.0 256.6 286.4 257.4 286.4Z"/>
<path d="M257.4 288.9C258.1 288.9 258.9 289.4 259.8 289.9C260.6 290.5 261.6 291.6 262.4 292.4C263.3 293.3 264.2 294.2 265.1 295.1C265.9 296.0 267.1 297.0 267.6 298.0C268.0 298.9 267.7 299.8 267.6 300.8C267.5 301.8 267.2 302.8 267.0 303.9C266.8 304.9 266.6 306.1 266.2 307.1C265.8 308.1 265.3 309.1 264.6 309.9C264.0 310.8 263.1 311.4 262.2 311.9C261.4 312.4 260.2 312.9 259.3 312.8C258.5 312.8 257.7 312.2 257.1 311.6C256.5 310.9 256.0 310.0 255.6 309.1C255.2 308.2 254.9 307.1 254.6 306.1C254.4 305.0 254.1 304.1 254.0 303.0C253.9 301.9 254.0 300.7 254.0 299.5C254.0 298.3 253.9 297.0 254.0 295.8C254.1 294.5 254.2 293.1 254.4 292.1C254.7 291.1 255.1 290.5 255.6 289.9C256.1 289.4 256.8 289.0 257.4 288.9Z"/>
<path d="M257.5 291.5C258.0 291.5 258.8 291.8 259.5 292.3C260.2 292.8 261.0 293.6 261.7 294.3C262.4 295.0 263.1 295.7 263.8 296.5C264.5 297.3 265.6 298.2 266.0 299.0C266.4 299.8 266.5 300.7 266.5 301.5C266.5 302.3 266.2 303.2 266.0 304.0C265.8 304.8 265.4 305.7 265.0 306.5C264.6 307.3 264.1 308.2 263.5 308.8C262.9 309.4 262.2 309.9 261.5 310.3C260.8 310.7 260.1 311.1 259.5 311.0C258.9 310.9 258.4 310.5 258.0 310.0C257.6 309.5 257.3 308.8 257.0 308.0C256.7 307.2 256.5 306.3 256.3 305.5C256.1 304.7 255.9 303.9 255.8 303.0C255.7 302.1 255.7 301.0 255.6 300.0C255.5 299.0 255.5 298.0 255.5 297.0C255.5 296.0 255.6 294.8 255.7 294.0C255.8 293.2 256.0 292.7 256.3 292.3C256.6 291.9 257.0 291.5 257.5 291.5Z"/>
<path d="M258.8 295.3C258.8 295.6 258.7 296.1 258.5 296.3C258.3 296.5 258.0 296.7 257.8 296.7C257.6 296.7 257.3 296.5 257.1 296.3C256.9 296.1 256.8 295.6 256.8 295.3C256.8 295.0 256.9 294.5 257.1 294.3C257.3 294.1 257.6 293.9 257.8 293.9C258.0 293.9 258.3 294.1 258.5 294.3C258.7 294.5 258.8 295.0 258.8 295.3Z"/>
</g>
</defs>
<rect width="800" height="461" fill="#fff"/>
<g>
<rect x="127.55" y="82.60" width="59.90" height="10.85" fill="#969696"/>
<rect x="196.50" y="82.60" width="10.65" height="10.85" fill="#969696"/>
<rect x="216.20" y="82.60" width="10.65" height="10.85" fill="#969696"/>
<rect x="235.90" y="82.60" width="10.65" height="10.85" fill="#969696"/>
<rect x="107.85" y="92.45" width="10.65" height="10.85" fill="#969696"/>
<rect x="127.55" y="92.45" width="59.90" height="10.85" fill="#969696"/>
<rect x="117.70" y="102.30" width="89.45" height="10.85" fill="#969696"/>
<rect x="216.20" y="102.30" width="10.65" height="10.85" fill="#969696"/>
<rect x="107.85" y="112.15" width="128.85" height="10.85" fill="#969696"/>
<rect x="107.85" y="122.00" width="128.85" height="10.85" fill="#969696"/>
<rect x="107.85" y="131.85" width="128.85" height="10.85" fill="#969696"/>
<rect x="245.75" y="131.85" width="10.65" height="10.85" fill="#969696"/>
<rect x="107.85" y="141.70" width="158.40" height="10.85" fill="#969696"/>
<rect x="107.85" y="151.55" width="168.25" height="10.85" fill="#969696"/>
<rect x="107.85" y="161.40" width="168.25" height="10.85" fill="#969696"/>
<rect x="107.85" y="171.25" width="168.25" height="10.85" fill="#969696"/>
<rect x="117.70" y="181.10" width="158.40" height="10.85" fill="#969696"/>
<rect x="127.55" y="190.95" width="148.55" height="10.85" fill="#969696"/>
<rect x="117.70" y="200.80" width="10.65" height="10.85" fill="#969696"/>
<rect x="137.40" y="200.80" width="69.75" height="10.85" fill="#969696"/>
<rect x="216.20" y="200.80" width="10.65" height="10.85" fill="#969696"/>
<rect x="235.90" y="200.80" width="10.65" height="10.85" fill="#969696"/>
<rect x="127.55" y="210.65" width="10.65" height="10.85" fill="#969696"/>
<rect x="147.25" y="210.65" width="10.65" height="10.85" fill="#969696"/>
<rect x="166.95" y="210.65" width="10.65" height="10.85" fill="#969696"/>
<rect x="186.65" y="210.65" width="10.65" height="10.85" fill="#969696"/>
<rect x="206.35" y="210.65" width="10.65" height="10.85" fill="#969696"/>
<rect x="226.05" y="210.65" width="10.65" height="10.85" fill="#969696"/>
<rect x="245.75" y="210.65" width="10.65" height="10.85" fill="#969696"/>
<rect x="235.90" y="250.05" width="40.20" height="10.85" fill="#969696"/>
<rect x="235.90" y="259.90" width="50.05" height="10.85" fill="#969696"/>
<rect x="226.05" y="269.75" width="59.90" height="10.85" fill="#969696"/>
<rect x="226.05" y="279.60" width="59.90" height="10.85" fill="#969696"/>
<rect x="226.05" y="289.45" width="59.90" height="10.85" fill="#969696"/>
<rect x="216.20" y="299.30" width="69.75" height="10.85" fill="#969696"/>
<rect x="176.80" y="309.15" width="10.65" height="10.85" fill="#969696"/>
<rect x="196.50" y="309.15" width="89.45" height="10.85" fill="#969696"/>
<rect x="216.20" y="319.00" width="79.60" height="10.85" fill="#969696"/>
<rect x="216.20" y="328.85" width="10.65" height="10.85" fill="#969696"/>
<rect x="235.90" y="328.85" width="40.20" height="10.85" fill="#969696"/>
<rect x="147.35" y="92.65" width="10.45" height="10.45" fill="#0c0cd4"/>
<rect x="137.50" y="102.50" width="10.45" height="10.45" fill="#0c4cf5"/>
<rect x="147.35" y="102.50" width="10.45" height="10.45" fill="#0c4cf5"/>
<rect x="157.20" y="102.50" width="10.45" height="10.45" fill="#0c4cf5"/>
<rect x="127.65" y="112.35" width="10.45" height="10.45" fill="#0c4cf5"/>
<rect x="137.50" y="112.35" width="10.45" height="10.45" fill="#0c4cf5"/>
<rect x="147.35" y="112.35" width="10.45" height="10.45" fill="#0c4cf5"/>
<rect x="157.20" y="112.35" width="10.45" height="10.45" fill="#0c4cf5"/>
<rect x="167.05" y="112.35" width="10.45" height="10.45" fill="#0c4cf5"/>
<rect x="117.80" y="122.20" width="10.45" height="10.45" fill="#0c0cd4"/>
<rect x="127.65" y="122.20" width="10.45" height="10.45" fill="#0c0cd4"/>
<rect x="137.50" y="122.20" width="10.45" height="10.45" fill="#0c4cf5"/>
<rect x="147.35" y="122.20" width="10.45" height="10.45" fill="#0c4cf5"/>
<rect x="157.20" y="122.20" width="10.45" height="10.45" fill="#0c4cf5"/>
<rect x="167.05" y="122.20" width="10.45" height="10.45" fill="#0c4cf5"/>
<rect x="196.60" y="122.20" width="10.45" height="10.45" fill="#1690fa"/>
<rect x="137.50" y="132.05" width="10.45" height="10.45" fill="#0c4cf5"/>
<rect x="147.35" y="132.05" width="10.45" height="10.45" fill="#0c4cf5"/>
<rect x="157.20" y="132.05" width="10.45" height="10.45" fill="#0c4cf5"/>
<rect x="167.05" y="132.05" width="10.45" height="10.45" fill="#0c4cf5"/>
<rect x="127.65" y="141.90" width="10.45" height="10.45" fill="#0c4cf5"/>
<rect x="137.50" y="141.90" width="10.45" height="10.45" fill="#1690fa"/>
<rect x="206.45" y="141.90" width="10.45" height="10.45" fill="#4cf0d8"/>
<rect x="107.95" y="151.75" width="10.45" height="10.45" fill="#28cdea"/>
<rect x="127.65" y="151.75" width="10.45" height="10.45" fill="#1e73f0"/>
<rect x="137.50" y="151.75" width="10.45" height="10.45" fill="#1690fa"/>
<rect x="176.90" y="151.75" width="10.45" height="10.45" fill="#4cf0d8"/>
<rect x="186.75" y="151.75" width="10.45" height="10.45" fill="#28cdea"/>
<rect x="196.60" y="151.75" width="10.45" height="10.45" fill="#28cdea"/>
<rect x="206.45" y="151.75" width="10.45" height="10.45" fill="#28cdea"/>
<rect x="216.30" y="151.75" width="10.45" height="10.45" fill="#28cdea"/>
<rect x="236.00" y="151.75" width="10.45" height="10.45" fill="#0c0cd4"/>
<rect x="127.65" y="161.60" width="10.45" height="10.45" fill="#32aaee"/>
<rect x="137.50" y="161.60" width="10.45" height="10.45" fill="#28cdea"/>
<rect x="147.35" y="161.60" width="10.45" height="10.45" fill="#28cdea"/>
<rect x="196.60" y="161.60" width="10.45" height="10.45" fill="#28cdea"/>
<rect x="206.45" y="161.60" width="10.45" height="10.45" fill="#28cdea"/>
<rect x="216.30" y="161.60" width="10.45" height="10.45" fill="#28cdea"/>
<rect x="236.00" y="161.60" width="10.45" height="10.45" fill="#0c0cd4"/>
<rect x="245.85" y="161.60" width="10.45" height="10.45" fill="#0c0cd4"/>
<rect x="255.70" y="161.60" width="10.45" height="10.45" fill="#0c0cd4"/>
<rect x="127.65" y="171.45" width="10.45" height="10.45" fill="#6ef0bc"/>
<rect x="137.50" y="171.45" width="10.45" height="10.45" fill="#78fab8"/>
<rect x="147.35" y="171.45" width="10.45" height="10.45" fill="#78fab8"/>
<rect x="157.20" y="171.45" width="10.45" height="10.45" fill="#78fab8"/>
<rect x="167.05" y="171.45" width="10.45" height="10.45" fill="#78fab8"/>
<rect x="196.60" y="171.45" width="10.45" height="10.45" fill="#28cdea"/>
<rect x="206.45" y="171.45" width="10.45" height="10.45" fill="#28cdea"/>
<rect x="216.30" y="171.45" width="10.45" height="10.45" fill="#28cdea"/>
<rect x="226.15" y="171.45" width="10.45" height="10.45" fill="#1690fa"/>
<rect x="236.00" y="171.45" width="10.45" height="10.45" fill="#0c4cf5"/>
<rect x="245.85" y="171.45" width="10.45" height="10.45" fill="#0c0cd4"/>
<rect x="255.70" y="171.45" width="10.45" height="10.45" fill="#0c0cd4"/>
<rect x="137.50" y="181.30" width="10.45" height="10.45" fill="#78fab8"/>
<rect x="147.35" y="181.30" width="10.45" height="10.45" fill="#78fab8"/>
<rect x="157.20" y="181.30" width="10.45" height="10.45" fill="#78fab8"/>
<rect x="186.75" y="181.30" width="10.45" height="10.45" fill="#0c0cd4"/>
<rect x="196.60" y="181.30" width="10.45" height="10.45" fill="#1690fa"/>
<rect x="206.45" y="181.30" width="10.45" height="10.45" fill="#1690fa"/>
<rect x="216.30" y="181.30" width="10.45" height="10.45" fill="#1690fa"/>
<rect x="226.15" y="181.30" width="10.45" height="10.45" fill="#1690fa"/>
<rect x="236.00" y="181.30" width="10.45" height="10.45" fill="#0c4cf5"/>
<rect x="147.35" y="191.15" width="10.45" height="10.45" fill="#78fab8"/>
<rect x="157.20" y="191.15" width="10.45" height="10.45" fill="#78fab8"/>
<rect x="186.75" y="191.15" width="10.45" height="10.45" fill="#1690fa"/>
<rect x="245.85" y="191.15" width="10.45" height="10.45" fill="#0c4cf5"/>
<rect x="147.35" y="201.00" width="10.45" height="10.45" fill="#78fab8"/>
<rect x="255.70" y="260.10" width="10.45" height="10.45" fill="#ff9646"/>
<rect x="236.00" y="269.95" width="10.45" height="10.45" fill="#f50f0a"/>
<rect x="245.85" y="269.95" width="10.45" height="10.45" fill="#f50f0a"/>
<rect x="255.70" y="269.95" width="10.45" height="10.45" fill="#f50f0a"/>
<rect x="236.00" y="279.80" width="10.45" height="10.45" fill="#f50f0a"/>
<rect x="245.85" y="279.80" width="10.45" height="10.45" fill="#f50f0a"/>
<rect x="255.70" y="279.80" width="10.45" height="10.45" fill="#f50f0a"/>
<rect x="265.55" y="279.80" width="10.45" height="10.45" fill="#f50f0a"/>
<rect x="245.85" y="289.65" width="10.45" height="10.45" fill="#f50f0a"/>
<rect x="255.70" y="289.65" width="10.45" height="10.45" fill="#f50f0a"/>
<rect x="265.55" y="289.65" width="10.45" height="10.45" fill="#f50f0a"/>
<rect x="245.85" y="299.50" width="10.45" height="10.45" fill="#f50f0a"/>
<rect x="255.70" y="299.50" width="10.45" height="10.45" fill="#f50f0a"/>
<rect x="265.55" y="299.50" width="10.45" height="10.45" fill="#f50f0a"/>
<rect x="245.85" y="309.35" width="10.45" height="10.45" fill="#f50f0a"/>
<rect x="255.70" y="309.35" width="10.45" height="10.45" fill="#f50f0a"/>
<rect x="265.55" y="309.35" width="10.45" height="10.45" fill="#f50f0a"/>
<rect x="530.25" y="82.60" width="59.90" height="10.85" fill="#969696"/>
<rect x="599.20" y="82.60" width="10.65" height="10.85" fill="#969696"/>
<rect x="618.90" y="82.60" width="10.65" height="10.85" fill="#969696"/>
<rect x="638.60" y="82.60" width="10.65" height="10.85" fill="#969696"/>
<rect x="510.55" y="92.45" width="10.65" height="10.85" fill="#969696"/>
<rect x="530.25" y="92.45" width="59.90" height="10.85" fill="#969696"/>
<rect x="520.40" y="102.30" width="89.45" height="10.85" fill="#969696"/>
<rect x="618.90" y="102.30" width="10.65" height="10.85" fill="#969696"/>
<rect x="510.55" y="112.15" width="128.85" height="10.85" fill="#969696"/>
<rect x="510.55" y="122.00" width="128.85" height="10.85" fill="#969696"/>
<rect x="510.55" y="131.85" width="128.85" height="10.85" fill="#969696"/>
<rect x="648.45" y="131.85" width="10.65" height="10.85" fill="#969696"/>
<rect x="510.55" y="141.70" width="158.40" height="10.85" fill="#969696"/>
<rect x="510.55" y="151.55" width="168.25" height="10.85" fill="#969696"/>
<rect x="510.55" y="161.40" width="168.25" height="10.85" fill="#969696"/>
<rect x="510.55" y="171.25" width="168.25" height="10.85" fill="#969696"/>
<rect x="520.40" y="181.10" width="158.40" height="10.85" fill="#969696"/>
<rect x="530.25" y="190.95" width="148.55" height="10.85" fill="#969696"/>
<rect x="520.40" y="200.80" width="10.65" height="10.85" fill="#969696"/>
<rect x="540.10" y="200.80" width="69.75" height="10.85" fill="#969696"/>
<rect x="618.90" y="200.80" width="10.65" height="10.85" fill="#969696"/>
<rect x="638.60" y="200.80" width="10.65" height="10.85" fill="#969696"/>
<rect x="530.25" y="210.65" width="10.65" height="10.85" fill="#969696"/>
<rect x="549.95" y="210.65" width="10.65" height="10.85" fill="#969696"/>
<rect x="569.65" y="210.65" width="10.65" height="10.85" fill="#969696"/>
<rect x="589.35" y="210.65" width="10.65" height="10.85" fill="#969696"/>
<rect x="609.05" y="210.65" width="10.65" height="10.85" fill="#969696"/>
<rect x="628.75" y="210.65" width="10.65" height="10.85" fill="#969696"/>
<rect x="648.45" y="210.65" width="10.65" height="10.85" fill="#969696"/>
<rect x="638.60" y="250.05" width="40.20" height="10.85" fill="#969696"/>
<rect x="638.60" y="259.90" width="50.05" height="10.85" fill="#969696"/>
<rect x="628.75" y="269.75" width="59.90" height="10.85" fill="#969696"/>
<rect x="628.75" y="279.60" width="59.90" height="10.85" fill="#969696"/>
<rect x="628.75" y="289.45" width="59.90" height="10.85" fill="#969696"/>
<rect x="618.90" y="299.30" width="69.75" height="10.85" fill="#969696"/>
<rect x="579.50" y="309.15" width="10.65" height="10.85" fill="#969696"/>
<rect x="599.20" y="309.15" width="89.45" height="10.85" fill="#969696"/>
<rect x="618.90" y="319.00" width="79.60" height="10.85" fill="#969696"/>
<rect x="618.90" y="328.85" width="10.65" height="10.85" fill="#969696"/>
<rect x="638.60" y="328.85" width="40.20" height="10.85" fill="#969696"/>
<rect x="550.05" y="92.65" width="10.45" height="10.45" fill="#6ef0bc"/>
<rect x="540.20" y="102.50" width="10.45" height="10.45" fill="#1464f2"/>
<rect x="550.05" y="102.50" width="10.45" height="10.45" fill="#4cf0d8"/>
<rect x="559.90" y="102.50" width="10.45" height="10.45" fill="#1690fa"/>
<rect x="530.35" y="112.35" width="10.45" height="10.45" fill="#4cf0d8"/>
<rect x="540.20" y="112.35" width="10.45" height="10.45" fill="#4cf0d8"/>
<rect x="550.05" y="112.35" width="10.45" height="10.45" fill="#1464f2"/>
<rect x="559.90" y="112.35" width="10.45" height="10.45" fill="#1464f2"/>
<rect x="569.75" y="112.35" width="10.45" height="10.45" fill="#0c4cf5"/>
<rect x="520.50" y="122.20" width="10.45" height="10.45" fill="#1464f2"/>
<rect x="530.35" y="122.20" width="10.45" height="10.45" fill="#4cf0d8"/>
<rect x="540.20" y="122.20" width="10.45" height="10.45" fill="#28cdea"/>
<rect x="550.05" y="122.20" width="10.45" height="10.45" fill="#1464f2"/>
<rect x="559.90" y="122.20" width="10.45" height="10.45" fill="#1464f2"/>
<rect x="569.75" y="122.20" width="10.45" height="10.45" fill="#0c4cf5"/>
<rect x="599.30" y="122.20" width="10.45" height="10.45" fill="#4cf0d8"/>
<rect x="540.20" y="132.05" width="10.45" height="10.45" fill="#4cf0d8"/>
<rect x="550.05" y="132.05" width="10.45" height="10.45" fill="#28cdea"/>
<rect x="559.90" y="132.05" width="10.45" height="10.45" fill="#1690fa"/>
<rect x="569.75" y="132.05" width="10.45" height="10.45" fill="#1464f2"/>
<rect x="530.35" y="141.90" width="10.45" height="10.45" fill="#4cf0d8"/>
<rect x="540.20" y="141.90" width="10.45" height="10.45" fill="#4cf0d8"/>
<rect x="609.15" y="141.90" width="10.45" height="10.45" fill="#0c4cf5"/>
<rect x="510.65" y="151.75" width="10.45" height="10.45" fill="#4cf0d8"/>
<rect x="530.35" y="151.75" width="10.45" height="10.45" fill="#f50f0a"/>
<rect x="540.20" y="151.75" width="10.45" height="10.45" fill="#f50f0a"/>
<rect x="579.60" y="151.75" width="10.45" height="10.45" fill="#1690fa"/>
<rect x="589.45" y="151.75" width="10.45" height="10.45" fill="#28cdea"/>
<rect x="599.30" y="151.75" width="10.45" height="10.45" fill="#1690fa"/>
<rect x="609.15" y="151.75" width="10.45" height="10.45" fill="#1690fa"/>
<rect x="619.00" y="151.75" width="10.45" height="10.45" fill="#4cf0d8"/>
<rect x="638.70" y="151.75" width="10.45" height="10.45" fill="#4cf0d8"/>
<rect x="530.35" y="161.60" width="10.45" height="10.45" fill="#c8f082"/>
<rect x="540.20" y="161.60" width="10.45" height="10.45" fill="#ff9646"/>
<rect x="550.05" y="161.60" width="10.45" height="10.45" fill="#f50f0a"/>
<rect x="599.30" y="161.60" width="10.45" height="10.45" fill="#4cf0d8"/>
<rect x="609.15" y="161.60" width="10.45" height="10.45" fill="#28cdea"/>
<rect x="619.00" y="161.60" width="10.45" height="10.45" fill="#28cdea"/>
<rect x="638.70" y="161.60" width="10.45" height="10.45" fill="#c8f082"/>
<rect x="648.55" y="161.60" width="10.45" height="10.45" fill="#4cf0d8"/>
<rect x="658.40" y="161.60" width="10.45" height="10.45" fill="#4cf0d8"/>
<rect x="530.35" y="171.45" width="10.45" height="10.45" fill="#a8f596"/>
<rect x="540.20" y="171.45" width="10.45" height="10.45" fill="#c8f082"/>
<rect x="550.05" y="171.45" width="10.45" height="10.45" fill="#6ef0bc"/>
<rect x="559.90" y="171.45" width="10.45" height="10.45" fill="#28cdea"/>
<rect x="569.75" y="171.45" width="10.45" height="10.45" fill="#4cf0d8"/>
<rect x="599.30" y="171.45" width="10.45" height="10.45" fill="#28cdea"/>
<rect x="609.15" y="171.45" width="10.45" height="10.45" fill="#4cf0d8"/>
<rect x="619.00" y="171.45" width="10.45" height="10.45" fill="#4cf0d8"/>
<rect x="628.85" y="171.45" width="10.45" height="10.45" fill="#f50f0a"/>
<rect x="638.70" y="171.45" width="10.45" height="10.45" fill="#c8f082"/>
<rect x="648.55" y="171.45" width="10.45" height="10.45" fill="#f0c064"/>
<rect x="658.40" y="171.45" width="10.45" height="10.45" fill="#4cf0d8"/>
<rect x="540.20" y="181.30" width="10.45" height="10.45" fill="#28cdea"/>
<rect x="550.05" y="181.30" width="10.45" height="10.45" fill="#1690fa"/>
<rect x="559.90" y="181.30" width="10.45" height="10.45" fill="#0c0cd4"/>
<rect x="589.45" y="181.30" width="10.45" height="10.45" fill="#a8f596"/>
<rect x="599.30" y="181.30" width="10.45" height="10.45" fill="#28cdea"/>
<rect x="609.15" y="181.30" width="10.45" height="10.45" fill="#f50f0a"/>
<rect x="619.00" y="181.30" width="10.45" height="10.45" fill="#f50f0a"/>
<rect x="628.85" y="181.30" width="10.45" height="10.45" fill="#f09870"/>
<rect x="638.70" y="181.30" width="10.45" height="10.45" fill="#f0dc78"/>
<rect x="550.05" y="191.15" width="10.45" height="10.45" fill="#1690fa"/>
<rect x="559.90" y="191.15" width="10.45" height="10.45" fill="#0c0cd4"/>
<rect x="589.45" y="191.15" width="10.45" height="10.45" fill="#c8f082"/>
<rect x="648.55" y="191.15" width="10.45" height="10.45" fill="#0c4cf5"/>
<rect x="550.05" y="201.00" width="10.45" height="10.45" fill="#1690fa"/>
<rect x="658.40" y="260.10" width="10.45" height="10.45" fill="#1690fa"/>
<rect x="638.70" y="269.95" width="10.45" height="10.45" fill="#1690fa"/>
<rect x="648.55" y="269.95" width="10.45" height="10.45" fill="#28cdea"/>
<rect x="658.40" y="269.95" width="10.45" height="10.45" fill="#f0dc78"/>
<rect x="638.70" y="279.80" width="10.45" height="10.45" fill="#1690fa"/>
<rect x="648.55" y="279.80" width="10.45" height="10.45" fill="#4cf0d8"/>
<rect x="658.40" y="279.80" width="10.45" height="10.45" fill="#c8f082"/>
<rect x="668.25" y="279.80" width="10.45" height="10.45" fill="#f0c064"/>
<rect x="648.55" y="289.65" width="10.45" height="10.45" fill="#4cf0d8"/>
<rect x="658.40" y="289.65" width="10.45" height="10.45" fill="#c8f082"/>
<rect x="668.25" y="289.65" width="10.45" height="10.45" fill="#f0c064"/>
<rect x="648.55" y="299.50" width="10.45" height="10.45" fill="#f0c064"/>
<rect x="658.40" y="299.50" width="10.45" height="10.45" fill="#a8f596"/>
<rect x="668.25" y="299.50" width="10.45" height="10.45" fill="#4cf0d8"/>
<rect x="648.55" y="309.35" width="10.45" height="10.45" fill="#28cdea"/>
<rect x="658.40" y="309.35" width="10.45" height="10.45" fill="#c8f082"/>
<rect x="668.25" y="309.35" width="10.45" height="10.45" fill="#4cf0d8"/>
</g>
<use href="#ct"/>
<use href="#ct" x="403.5"/>
<rect x="82.25" y="57.35" width="239.05" height="307.95" fill="none" stroke="#1a1a1a" stroke-width="1.1"/>
<path d="M133 57.35v7M133 365.3v-7M211.7 57.35v7M211.7 365.3v-7M290.5 57.35v7M290.5 365.3v-7M82.25 107.8h7M321.3 107.8h-7M82.25 186.9h7M321.3 186.9h-7M82.25 265.7h7M321.3 265.7h-7M82.25 344.6h7M321.3 344.6h-7" stroke="#1a1a1a" stroke-width="1.1" fill="none"/>
<text x="71.9" y="113.2" text-anchor="end">5</text>
<text x="71.9" y="192.3" text-anchor="end">0</text>
<text x="71.9" y="271.09999999999997" text-anchor="end"><tspan font-weight="bold">-</tspan>5</text>
<text x="71.9" y="350.0" text-anchor="end"><tspan font-weight="bold">-</tspan>10</text>
<text x="134.5" y="388.2" text-anchor="middle">0</text>
<text x="212.0" y="388.2" text-anchor="middle"><tspan font-weight="bold">-</tspan>5</text>
<text x="290.8" y="388.2" text-anchor="middle"><tspan font-weight="bold">-</tspan>10</text>
<text x="201.975" y="411.2" text-anchor="middle">R.A. offset (arcmin)</text>
<text transform="translate(31.2,211.2) rotate(-90)" text-anchor="middle">Decl. offset (arcmin)</text>
<rect x="484.95" y="57.35" width="239.05" height="307.95" fill="none" stroke="#1a1a1a" stroke-width="1.1"/>
<path d="M535.7 57.35v7M535.7 365.3v-7M614.4 57.35v7M614.4 365.3v-7M693.2 57.35v7M693.2 365.3v-7M484.95 107.8h7M724.0 107.8h-7M484.95 186.9h7M724.0 186.9h-7M484.95 265.7h7M724.0 265.7h-7M484.95 344.6h7M724.0 344.6h-7" stroke="#1a1a1a" stroke-width="1.1" fill="none"/>
<text x="474.6" y="113.2" text-anchor="end">5</text>
<text x="474.6" y="192.3" text-anchor="end">0</text>
<text x="474.6" y="271.09999999999997" text-anchor="end"><tspan font-weight="bold">-</tspan>5</text>
<text x="474.6" y="350.0" text-anchor="end"><tspan font-weight="bold">-</tspan>10</text>
<text x="537.2" y="388.2" text-anchor="middle">0</text>
<text x="614.6999999999999" y="388.2" text-anchor="middle"><tspan font-weight="bold">-</tspan>5</text>
<text x="693.5" y="388.2" text-anchor="middle"><tspan font-weight="bold">-</tspan>10</text>
<text x="604.6750000000001" y="411.2" text-anchor="middle">R.A. offset (arcmin)</text>
<text transform="translate(433.9,211.2) rotate(-90)" text-anchor="middle">Decl. offset (arcmin)</text>
<rect x="327.1" y="57.3" width="12.8" height="308.20" fill="url(#jet)" stroke="#22222a" stroke-width="0.9"/>
<text x="349" y="105.2"><tspan font-weight="bold">-</tspan>17</text>
<text x="349" y="160.29999999999998"><tspan font-weight="bold">-</tspan>18</text>
<text x="349" y="215.39999999999998"><tspan font-weight="bold">-</tspan>19</text>
<text x="349" y="270.5"><tspan font-weight="bold">-</tspan>20</text>
<text x="349" y="325.59999999999997"><tspan font-weight="bold">-</tspan>21</text>
<path d="M327.1 99.5h12.8M327.1 154.6h12.8M327.1 209.7h12.8M327.1 264.8h12.8M327.1 319.9h12.8" stroke="#1c2a1c" stroke-width="1" fill="none" opacity="0.85"/>
<rect x="729.8" y="57.3" width="12.8" height="308.20" fill="url(#jet)" stroke="#22222a" stroke-width="0.9"/>
<text x="756.4" y="77.10000000000001">2.8</text>
<text x="756.4" y="109.55000000000001">2.6</text>
<text x="756.4" y="142.0">2.4</text>
<text x="756.4" y="174.45">2.2</text>
<text x="756.4" y="206.9">2</text>
<text x="756.4" y="239.35">1.8</text>
<text x="756.4" y="271.8">1.6</text>
<text x="756.4" y="304.25000000000006">1.4</text>
<text x="756.4" y="336.7">1.2</text>
<text x="756.4" y="369.15000000000003">1</text>
<path d="M729.8 71.4h12.8M729.8 103.85000000000001h12.8M729.8 136.3h12.8M729.8 168.75h12.8M729.8 201.20000000000002h12.8M729.8 233.65h12.8M729.8 266.1h12.8M729.8 298.55000000000007h12.8M729.8 331.0h12.8M729.8 363.45000000000005h12.8" stroke="#1c2a1c" stroke-width="1" fill="none" opacity="0.85"/>
<text class="wm" x="701.6" y="456" textLength="83.5" lengthAdjust="spacingAndGlyphs">SCIENCEAQ.COM</text>
</svg>
</body></html>
